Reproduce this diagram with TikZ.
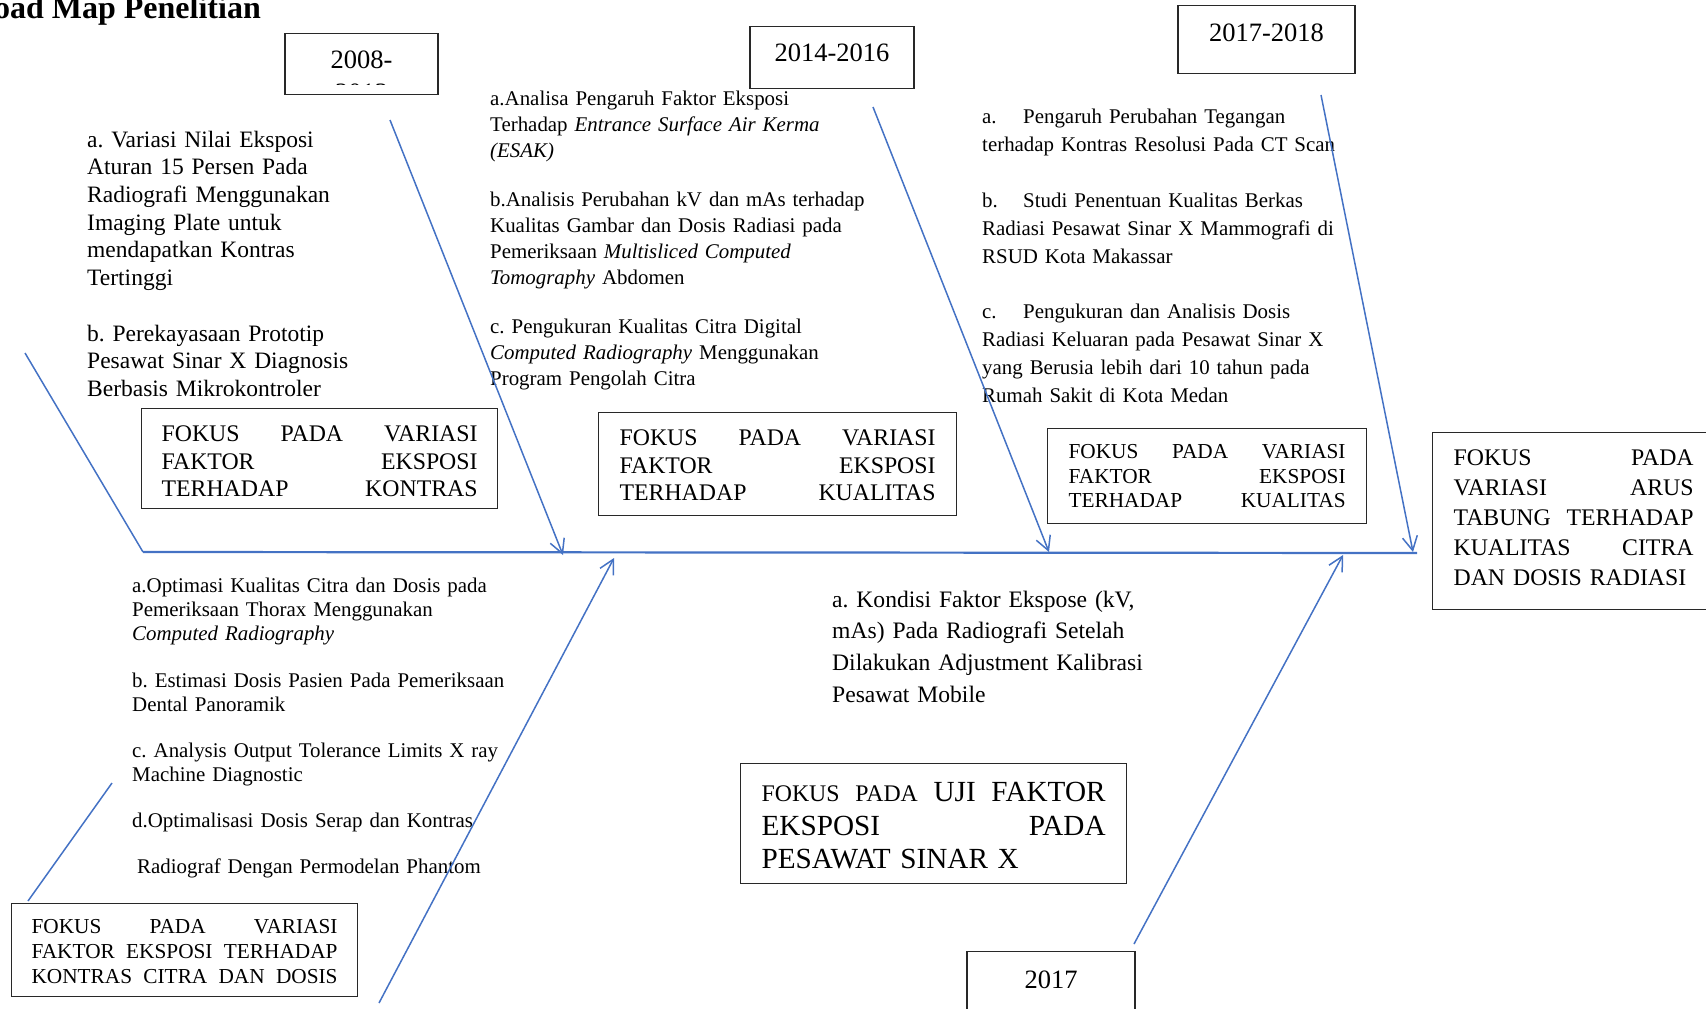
\documentclass[tikz,border=0pt]{standalone}
\usepackage{fontspec}
\setmainfont{Liberation Serif}
\usetikzlibrary{arrows.meta}
\definecolor{fishblue}{RGB}{68,114,196}
\definecolor{boxline}{RGB}{40,40,40}
\frenchspacing
\begin{document}
\begin{tikzpicture}[x=1pt,y=-1pt,
  bone/.style={draw=fishblue, line width=1.5pt},
  arr/.style={bone, -{Straight Barb[length=14pt,width=15pt,line width=1.5pt]}},
  para/.style={anchor=base west, inner sep=0pt, text width=500pt, align=left, execute at begin node=\frenchspacing},
  fbox/.style={draw=boxline, line width=1.2pt, anchor=north west, inner ysep=0pt, align=left},
  ybox/.style={draw=boxline, line width=1.2pt, anchor=north, inner ysep=0pt, inner xsep=0pt, font=\fontsize{26.5}{31}\selectfont},
  bigtext/.style={font=\fontsize{23.5}{27.7}\selectfont},
  smalltext/.style={font=\fontsize{20.9}{#1}\selectfont},
]
\useasboundingbox (0,0) rectangle (1706,1009);
\clip (0,0) rectangle (1706,1009);

% title
\node[anchor=base east, inner sep=0pt, font=\bfseries\fontsize{32}{36}\selectfont] (title) at (261,19) {Road Map Penelitian};

% year boxes
\node[ybox, minimum width=153pt, text height=35pt, text depth=26pt] (y1) at (361.5,33) {2008-};
\begin{scope}
  \clip (287,35) rectangle (436,84);
  \node[anchor=base, inner sep=0pt, font=\fontsize{26.5}{31}\selectfont] (y1b) at (361.5,101) {2013};
\end{scope}
\node[ybox, minimum width=164pt, text height=35pt, text depth=27pt] (y2) at (832,26) {2014-2016};
\node[ybox, minimum width=177pt, text height=36pt, text depth=32pt] (y3) at (1266.5,5) {2017-2018};
\node[ybox, minimum width=168pt, text height=37pt, text depth=30pt] (y4) at (1051,951) {2017};

% 2008 texts
\node[para, bigtext] (p1a) at (87,147) {a. Variasi Nilai Eksposi\\Aturan 15 Persen Pada\\Radiografi Menggunakan\\Imaging Plate untuk\\mendapatkan Kontras\\Tertinggi};
\node[para, bigtext] (p1b) at (87,341) {b. Perekayasaan Prototip\\Pesawat Sinar X Diagnosis\\Berbasis Mikrokontroler};

% 2014-2016 texts
\node[para, smalltext=26.3] (p2a) at (490,105) {a.Analisa Pengaruh Faktor Eksposi\\Terhadap \textit{Entrance Surface Air Kerma}\\\textit{(ESAK)}};
\node[para, smalltext=26.3] (p2b) at (490,206) {b.Analisis Perubahan kV dan mAs terhadap\\Kualitas Gambar dan Dosis Radiasi pada\\Pemeriksaan \textit{Multisliced Computed}\\\textit{Tomography} Abdomen};
\node[para, smalltext=26.3] (p2c) at (490,333) {c. Pengukuran Kualitas Citra Digital\\\textit{Computed Radiography} Menggunakan\\Program Pengolah Citra};

% 2017-2018 texts
\node[para, smalltext=28.3] (p3a) at (982,123) {\makebox[41pt][l]{a.}Pengaruh Perubahan Tegangan\\terhadap Kontras Resolusi Pada CT Scan};
\node[para, smalltext=28.3] (p3b) at (982,207) {\makebox[41pt][l]{b.}Studi Penentuan Kualitas Berkas\\Radiasi Pesawat Sinar X Mammografi di\\RSUD Kota Makassar};
\node[para, smalltext=28.3] (p3c) at (982,318) {\makebox[41pt][l]{c.}Pengukuran dan Analisis Dosis\\Radiasi Keluaran pada Pesawat Sinar X\\yang Berusia lebih dari 10 tahun pada\\Rumah Sakit di Kota Medan};

% lower-left texts
\node[para, smalltext=24] (p4a) at (132,592) {a.Optimasi Kualitas Citra dan Dosis pada\\Pemeriksaan Thorax Menggunakan\\\textit{Computed Radiography}};
\node[para, smalltext=24] (p4b) at (132,687) {b. Estimasi Dosis Pasien Pada Pemeriksaan\\Dental Panoramik};
\node[para, smalltext=24] (p4c) at (132,757) {c. Analysis Output Tolerance Limits X ray\\Machine Diagnostic};
\node[para, smalltext=24] (p4d) at (132,827) {d.Optimalisasi Dosis Serap dan Kontras};
\node[para, smalltext=24] (p4e) at (137,873) {Radiograf Dengan Permodelan Phantom};

% 2017 text
\node[para, font=\fontsize{23.6}{31.7}\selectfont] (p5) at (832,607) {a. Kondisi Faktor Ekspose (kV,\\mAs) Pada Radiografi Setelah\\Dilakukan Adjustment Kalibrasi\\Pesawat Mobile};

% focus boxes
\node[fbox, inner xsep=20pt, text width=316pt, text height=33pt, text depth=67pt, font=\fontsize{23.8}{27.5}\selectfont] (fa) at (141,408)
  {FOKUS\hfill PADA\hfill VARIASI\\FAKTOR\hfill EKSPOSI\\TERHADAP\hfill KONTRAS};
\node[fbox, inner xsep=21pt, text width=316pt, text height=33pt, text depth=70pt, font=\fontsize{23.8}{27.5}\selectfont] (fb) at (598,412)
  {FOKUS\hfill PADA\hfill VARIASI\\FAKTOR\hfill EKSPOSI\\TERHADAP\hfill KUALITAS};
\node[fbox, inner xsep=21pt, text width=277pt, text height=30pt, text depth=65pt, font=\fontsize{21.3}{24.5}\selectfont] (fc) at (1047,428)
  {FOKUS\hfill PADA\hfill VARIASI\\FAKTOR\hfill EKSPOSI\\TERHADAP\hfill KUALITAS};
\node[fbox, inner xsep=21pt, text width=240pt, text height=33pt, text depth=144pt, font=\fontsize{23.8}{30}\selectfont] (fd) at (1432,432)
  {FOKUS\hfill PADA\\VARIASI\hfill ARUS\\TABUNG\hfill TERHADAP\\KUALITAS\hfill CITRA\\DAN DOSIS RADIASI};
\node[fbox, inner xsep=20pt, text width=306pt, text height=30pt, text depth=63pt, font=\fontsize{21.3}{25}\selectfont] (fe) at (11,903)
  {FOKUS\hfill PADA\hfill VARIASI\\FAKTOR\hfill EKSPOSI\hfill TERHADAP\\KONTRAS\hfill CITRA\hfill DAN\hfill DOSIS};
\node[fbox, inner xsep=21pt, text width=344pt, text height=38pt, text depth=82pt, font=\fontsize{29.2}{33.5}\selectfont] (ff) at (740,763)
  {{\fontsize{23.8}{33.5}\selectfont FOKUS\hfill PADA}\hfill UJI\hfill FAKTOR\\EKSPOSI\hfill PADA\\PESAWAT SINAR X};

% fishbone coordinates
\coordinate (tail) at (25,353);
\coordinate (sp0) at (143,552);
\coordinate (sp1) at (1417,553);
\coordinate (a1s) at (390,120);  \coordinate (a1e) at (563,555);
\coordinate (a2s) at (873,107);  \coordinate (a2e) at (1049,552);
\coordinate (a3s) at (1321,95);  \coordinate (a3e) at (1413,552);
\coordinate (b1s) at (379,1003); \coordinate (b1e) at (614,558);
\coordinate (b2s) at (1134,944); \coordinate (b2e) at (1343,555);
\coordinate (l1s) at (28,901);   \coordinate (l1e) at (112,783);

\draw[bone] (tail) -- (sp0);
\draw[bone, line width=2.2pt] (sp0) -- (sp1);
\draw[arr] (a1s) -- (a1e);
\draw[arr] (a2s) -- (a2e);
\draw[arr] (a3s) -- (a3e);
\draw[arr] (b1s) -- (b1e);
\draw[arr] (b2s) -- (b2e);
\draw[bone] (l1s) -- (l1e);
\end{tikzpicture}
\end{document}
